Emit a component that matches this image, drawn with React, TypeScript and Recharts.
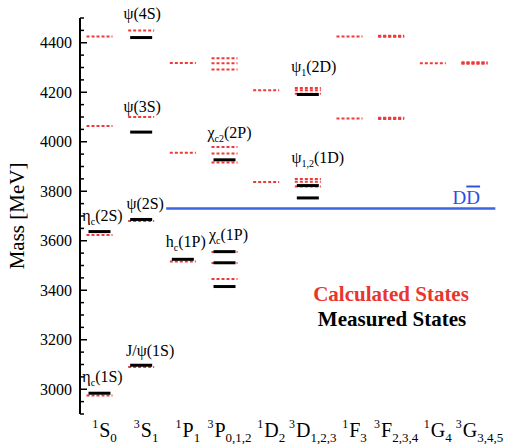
import React from 'react';
import {
  ComposedChart,
  Scatter,
  XAxis,
  YAxis,
  ReferenceLine,
  Customized
} from 'recharts';

// spectroscopic columns, left to right (superscript, letter, subscript)
const columns = [
  { sup: '1', main: 'S', sub: '0' },
  { sup: '3', main: 'S', sub: '1' },
  { sup: '1', main: 'P', sub: '1' },
  { sup: '3', main: 'P', sub: '0,1,2' },
  { sup: '1', main: 'D', sub: '2' },
  { sup: '3', main: 'D', sub: '1,2,3' },
  { sup: '1', main: 'F', sub: '3' },
  { sup: '3', main: 'F', sub: '2,3,4' },
  { sup: '1', main: 'G', sub: '4' },
  { sup: '3', main: 'G', sub: '3,4,5' }
];

// model predictions (MeV)
const calculated = [
  { col: 0, mass: 2975 }, { col: 0, mass: 3623 }, { col: 0, mass: 4064 }, { col: 0, mass: 4425 },
  { col: 1, mass: 3090 }, { col: 1, mass: 3680 }, { col: 1, mass: 4100 }, { col: 1, mass: 4450 },
  { col: 2, mass: 3516 }, { col: 2, mass: 3956 }, { col: 2, mass: 4318 },
  { col: 3, mass: 3445 }, { col: 3, mass: 3510 }, { col: 3, mass: 3555 },
  { col: 3, mass: 3916 }, { col: 3, mass: 3953 }, { col: 3, mass: 3979 },
  { col: 3, mass: 4292 }, { col: 3, mass: 4317 }, { col: 3, mass: 4337 },
  { col: 4, mass: 3837 }, { col: 4, mass: 4208 },
  { col: 5, mass: 3819 }, { col: 5, mass: 3838 }, { col: 5, mass: 3849 },
  { col: 5, mass: 4194 }, { col: 5, mass: 4208 }, { col: 5, mass: 4217 },
  { col: 6, mass: 4094 }, { col: 6, mass: 4425 },
  { col: 7, mass: 4092 }, { col: 7, mass: 4095 }, { col: 7, mass: 4097 },
  { col: 7, mass: 4424 }, { col: 7, mass: 4426 }, { col: 7, mass: 4428 },
  { col: 8, mass: 4317 },
  { col: 9, mass: 4315 }, { col: 9, mass: 4318 }, { col: 9, mass: 4321 }
];

// observed states (MeV)
const measured = [
  { col: 0, mass: 2984 }, { col: 0, mass: 3637 },
  { col: 1, mass: 3097 }, { col: 1, mass: 3686 }, { col: 1, mass: 4039 }, { col: 1, mass: 4421 },
  { col: 2, mass: 3525 },
  { col: 3, mass: 3415 }, { col: 3, mass: 3511 }, { col: 3, mass: 3556 }, { col: 3, mass: 3927 },
  { col: 5, mass: 3773 }, { col: 5, mass: 3823 }, { col: 5, mass: 4191 }
];

// state names, attached to the measured level they describe
const stateLabels = [
  { col: 0, mass: 2984, base: 'η', sub: 'c', tail: '(1S)' },
  { col: 0, mass: 3637, base: 'η', sub: 'c', tail: '(2S)' },
  { col: 1, mass: 3097, base: 'J/ψ', sub: '', tail: '(1S)' },
  { col: 1, mass: 3686, base: 'ψ', sub: '', tail: '(2S)' },
  { col: 1, mass: 4039, base: 'ψ', sub: '', tail: '(3S)' },
  { col: 1, mass: 4421, base: 'ψ', sub: '', tail: '(4S)' },
  { col: 2, mass: 3525, base: 'h', sub: 'c', tail: '(1P)' },
  { col: 3, mass: 3556, base: 'χ', sub: 'c', tail: '(1P)' },
  { col: 3, mass: 3927, base: 'χ', sub: 'c2', tail: '(2P)' },
  { col: 5, mass: 3823, base: 'ψ', sub: '1,2', tail: '(1D)' },
  { col: 5, mass: 4191, base: 'ψ', sub: '1', tail: '(2D)' }
];

// open-charm threshold
const ddThreshold = 3730;
const ddSpan = [1.6, 9.5];

const massTicks = Array.from({ length: 33 }, (_, i) => 2900 + i * 50);
const majorTicks = [3000, 3200, 3400, 3600, 3800, 4000, 4200, 4400];

const serif = { fontFamily: "'Liberation Serif', 'Times New Roman', serif" };
const RED = '#f03a3a';

// label nudges relative to their level: [dx, dy]
const labelOffset: Record<string, [number, number]> = {
  'η(1S)': [3, -11],
  'η(2S)': [3, -11],
  'J/ψ(1S)': [9, -9],
  'ψ(2S)': [4, -10],
  'ψ(3S)': [1, -20],
  'ψ(4S)': [1, -19],
  'h(1P)': [3, -12],
  'χ(1P)': [4, -12],
  'χ(2P)': [5, -22],
  'ψ(1D)': [10, -23],
  'ψ(2D)': [6, -22]
};

const CalcLevel = (props: any) => {
  const { cx, cy } = props;
  return (
    <line x1={cx - 13} x2={cx + 13} y1={cy} y2={cy} stroke={RED}
      strokeWidth={2} strokeDasharray="3 2" />
  );
};

const MeasLevel = (props: any) => {
  const { cx, cy } = props;
  return <line x1={cx - 11} x2={cx + 11} y1={cy} y2={cy} stroke="#000" strokeWidth={3} />;
};

const StateName = (props: any) => {
  const { cx, cy, payload } = props;
  const [dx, dy] = labelOffset[payload.base + payload.tail] || [0, -12];
  return (
    <text x={cx + dx} y={cy + dy} textAnchor="middle" style={serif} fontSize={16} fill="#000">
      <tspan>{payload.base}</tspan>
      {payload.sub && <tspan fontSize={10} dy={4}>{payload.sub}</tspan>}
      <tspan dy={payload.sub ? -4 : 0}>{payload.tail}</tspan>
    </text>
  );
};

const MassTick = (props: any) => {
  const { x, y, payload } = props;
  const major = majorTicks.includes(payload.value);
  return (
    <g>
      <line x1={x} x2={x + (major ? 7 : 4)} y1={y} y2={y} stroke="#000" strokeWidth={1.5} />
      {major && (
        <text x={x - 8} y={y} dy={5.5} textAnchor="end" style={serif} fontSize={16} fill="#000">
          {payload.value}
        </text>
      )}
    </g>
  );
};

const ColumnTick = (props: any) => {
  const { x, y, payload } = props;
  const c = columns[payload.value];
  if (!c) return null;
  return (
    <text x={x + 5} y={y + 23} textAnchor="middle" style={serif} fontSize={20} fill="#000">
      <tspan fontSize={12} dy={-9}>{c.sup}</tspan>
      <tspan dx={1} dy={9}>{c.main}</tspan>
      <tspan fontSize={13} dy={5}>{c.sub}</tspan>
    </text>
  );
};

const Legend = () => (
  <g>
    <text x={391} y={301} textAnchor="middle" style={serif} fontWeight="bold" fontSize={21} fill="#e8352e">
      Calculated States
    </text>
    <text x={392} y={326} textAnchor="middle" style={serif} fontWeight="bold" fontSize={21} fill="#000">
      Measured States
    </text>
  </g>
);

export default function App() {
  return (
    <div style={{ position: 'absolute', left: 0, top: 0, background: '#fff' }}>
      <ComposedChart width={510} height={444} margin={{ top: 18, right: 10, bottom: 0, left: 0 }}>
        <XAxis
          type="number"
          dataKey="col"
          domain={[-0.468, 9.612]}
          ticks={[0, 1, 2, 3, 4, 5, 6, 7, 8, 9]}
          interval={0}
          height={30}
          axisLine={false}
          tickLine={false}
          tickSize={0}
          tickMargin={0}
          tick={<ColumnTick />}
        />
        <YAxis
          type="number"
          dataKey="mass"
          domain={[2900, 4500]}
          ticks={massTicks}
          interval={0}
          width={80}
          axisLine={{ stroke: '#000', strokeWidth: 2 }}
          tickLine={false}
          tickSize={0}
          tickMargin={0}
          tick={<MassTick />}
          label={{
            content: (p: any) => {
              const vb = p.viewBox || { x: 0, y: 18, width: 80, height: 396 };
              const lx = vb.x + 17;
              const ly = vb.y + vb.height / 2;
              return (
                <text x={lx} y={ly} transform={`rotate(-90 ${lx} ${ly})`} textAnchor="middle"
                  dominantBaseline="central" style={serif} fontSize={21} fill="#000">
                  Mass [MeV]
                </text>
              );
            }
          }}
        />
        <ReferenceLine
          segment={[{ x: ddSpan[0], y: ddThreshold }, { x: ddSpan[1], y: ddThreshold }]}
          stroke="#3f63e6"
          strokeWidth={2.5}
          label={{
            content: (p: any) => {
              const vb = p.viewBox || { x: 0, y: 0, width: 0 };
              return (
                <text x={vb.x + vb.width - 29} y={vb.y - 5} textAnchor="middle" style={serif}
                  fontSize={19} fill="#2b4fdc">
                  D<tspan style={{ textDecoration: 'overline' }}>D</tspan>
                </text>
              );
            }
          }}
        />
        <Scatter data={calculated} isAnimationActive={false} shape={<CalcLevel />} />
        <Scatter data={measured} isAnimationActive={false} shape={<MeasLevel />} />
        <Scatter data={stateLabels} isAnimationActive={false} shape={<StateName />} />
        <Customized component={<Legend />} />
      </ComposedChart>
    </div>
  );
}
